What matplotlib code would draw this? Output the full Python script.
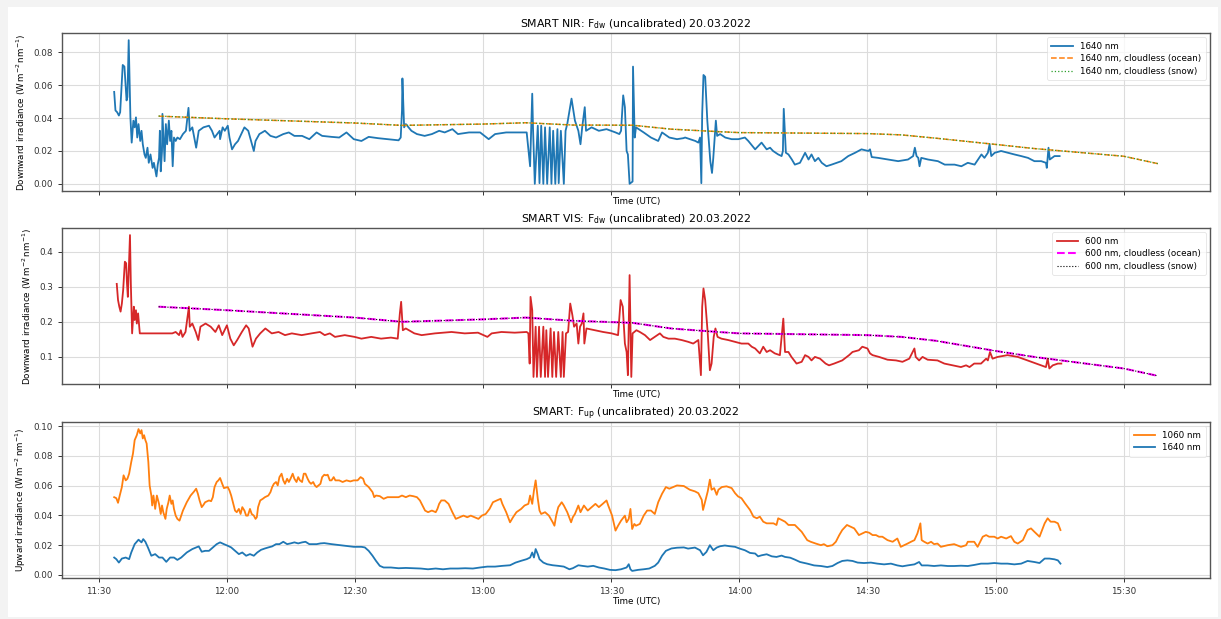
import numpy as np
import pandas as pd
import matplotlib
matplotlib.use("Agg")
import matplotlib.pyplot as plt
import matplotlib.dates as mdates
from matplotlib.patches import Rectangle

# ---------------- data (time in minutes after 00:00 UTC, 20.03.2022) ----------------
nir_t = [693.6, 693.9, 694.3, 694.7, 695.0, 695.6, 696.0, 696.5, 696.7, 697.0, 697.4, 697.7, 698.1, 698.4,
         698.7, 699.0, 699.3, 699.7, 700.0, 700.3, 700.7, 701.0, 701.4, 701.7, 702.1, 702.6, 702.9, 703.5,
         703.8, 704.1, 704.3, 704.5, 704.8, 704.9, 705.2, 705.4, 705.7, 706.0, 706.4, 706.7, 707.0, 707.3,
         707.6, 708.0, 708.4, 709.0, 709.7, 710.4, 711.0, 711.3, 711.9, 712.8, 713.4, 714.5, 715.8, 716.5,
         717.1, 718.3, 718.4, 719.0, 719.5, 720.2, 720.6, 721.2, 721.9, 722.6, 724.1, 725.0, 726.3, 726.7,
         727.6, 728.9, 730.2, 731.5, 733.2, 734.5, 735.8, 737.6, 739.3, 741.0, 742.3, 744.5, 746.3, 748.0,
         749.7, 751.5, 753.2, 755.4, 757.6, 760.2, 760.7, 761.0, 761.1, 761.5, 761.9, 763.2, 764.5, 766.3,
         768.0, 769.7, 771.0, 772.8, 774.1, 776.7, 779.3, 781.3, 782.8, 785.4, 788.0, 790.2, 791.0, 791.5,
         791.7, 792.1, 792.8, 793.2, 793.6, 794.1, 794.5, 795.0, 795.6, 796.0, 796.4, 796.9, 797.4, 797.7,
         798.2, 798.9, 799.3, 799.7, 800.7, 801.5, 802.3, 802.8, 803.2, 803.8, 804.1, 805.4, 807.1, 808.9,
         811.0, 811.9, 812.3, 812.8, 813.2, 813.6, 813.9, 814.3, 815.0, 815.1, 815.5, 815.8, 817.6, 819.3,
         821.0, 821.9, 823.6, 825.4, 826.9, 827.3, 829.7, 830.4, 830.8, 831.1, 831.3, 831.6, 832.0, 832.5,
         833.2, 833.6, 833.9, 834.5, 834.8, 835.5, 836.7, 838.2, 839.8, 841.3, 842.1, 843.7, 845.2, 846.4,
         847.2, 847.9, 849.1, 849.9, 850.2, 850.4, 850.9, 851.5, 852.3, 853.0, 854.2, 855.4, 856.2, 856.9,
         857.7, 858.5, 859.3, 860.4, 861.6, 863.9, 865.5, 867.1, 868.6, 870.2, 870.6, 871.0, 872.5, 874.8,
         877.2, 879.5, 880.7, 881.1, 881.5, 881.9, 882.2, 882.6, 884.2, 886.5, 888.1, 890.4, 892.0, 893.5,
         895.1, 895.9, 896.7, 897.4, 898.2, 898.6, 899.0, 899.8, 901.3, 902.9, 904.4, 906.0, 907.6, 909.1,
         910.7, 911.8, 912.0, 912.4, 912.7, 913.8, 915.0]
nir_v = [0.0560, 0.0447, 0.0436, 0.0416, 0.0436, 0.0724, 0.0714, 0.0508, 0.0529, 0.0875, 0.0405, 0.0251, 0.0385, 0.0344,
         0.0405, 0.0282, 0.0364, 0.0261, 0.0323, 0.0241, 0.0179, 0.0158, 0.0220, 0.0128, 0.0179, 0.0097, 0.0128, 0.0045,
         0.0117, 0.0158, 0.0323, 0.0076, 0.0200, 0.0426, 0.0261, 0.0138, 0.0364, 0.0241, 0.0385, 0.0261, 0.0323, 0.0107,
         0.0282, 0.0261, 0.0282, 0.0272, 0.0303, 0.0323, 0.0463, 0.0323, 0.0344, 0.0220, 0.0323, 0.0344, 0.0354, 0.0323,
         0.0282, 0.0323, 0.0272, 0.0344, 0.0323, 0.0354, 0.0282, 0.0210, 0.0241, 0.0261, 0.0344, 0.0323, 0.0200, 0.0261,
         0.0303, 0.0323, 0.0292, 0.0282, 0.0303, 0.0313, 0.0292, 0.0292, 0.0272, 0.0313, 0.0292, 0.0286, 0.0282, 0.0313,
         0.0272, 0.0261, 0.0286, 0.0278, 0.0272, 0.0265, 0.0282, 0.0447, 0.0642, 0.0344, 0.0364, 0.0323, 0.0303, 0.0292,
         0.0303, 0.0323, 0.0313, 0.0333, 0.0303, 0.0313, 0.0313, 0.0272, 0.0303, 0.0313, 0.0313, 0.0313, 0.0107, 0.0549,
         0.0323, 0.0000, 0.0354, 0.0004, 0.0354, 0.0000, 0.0344, 0.0000, 0.0344, 0.0000, 0.0323, 0.0000, 0.0333, 0.0004,
         0.0323, 0.0000, 0.0323, 0.0364, 0.0519, 0.0385, 0.0323, 0.0241, 0.0344, 0.0467, 0.0323, 0.0344, 0.0323, 0.0333,
         0.0313, 0.0303, 0.0323, 0.0539, 0.0467, 0.0200, 0.0179, 0.0000, 0.0014, 0.0714, 0.0282, 0.0344, 0.0313, 0.0282,
         0.0261, 0.0313, 0.0282, 0.0272, 0.0278, 0.0282, 0.0261, 0.0251, 0.0282, 0.0004, 0.0426, 0.0663, 0.0652, 0.0385,
         0.0138, 0.0066, 0.0158, 0.0385, 0.0292, 0.0303, 0.0282, 0.0272, 0.0272, 0.0282, 0.0261, 0.0210, 0.0251, 0.0210,
         0.0220, 0.0200, 0.0179, 0.0169, 0.0200, 0.0457, 0.0189, 0.0179, 0.0148, 0.0117, 0.0128, 0.0189, 0.0148, 0.0179,
         0.0138, 0.0158, 0.0128, 0.0107, 0.0117, 0.0138, 0.0169, 0.0189, 0.0210, 0.0200, 0.0210, 0.0163, 0.0158, 0.0148,
         0.0138, 0.0148, 0.0169, 0.0220, 0.0169, 0.0158, 0.0107, 0.0158, 0.0148, 0.0138, 0.0117, 0.0117, 0.0107, 0.0128,
         0.0117, 0.0148, 0.0179, 0.0158, 0.0189, 0.0241, 0.0169, 0.0189, 0.0200, 0.0189, 0.0179, 0.0169, 0.0158, 0.0138,
         0.0138, 0.0128, 0.0097, 0.0220, 0.0148, 0.0169, 0.0169]

clear_t = [704, 720, 750, 761, 780, 790, 801, 815, 824, 835, 840, 870, 878, 886, 900, 909, 930, 938]
nir_ocean = [0.0412, 0.0396, 0.0370, 0.0356, 0.0364, 0.0372, 0.0358, 0.0357, 0.0333, 0.0318, 0.0312,
             0.0306, 0.0298, 0.0278, 0.0240, 0.0215, 0.0168, 0.0123]
nir_snow = [0.0413, 0.0396, 0.0371, 0.0356, 0.0364, 0.0372, 0.0358, 0.0357, 0.0333, 0.0318, 0.0312,
            0.0306, 0.0298, 0.0278, 0.0240, 0.0215, 0.0168, 0.0123]

vis_t = [694.2, 694.5, 694.8, 695.1, 695.4, 695.7, 696.1, 696.4, 696.6, 696.8, 697.3, 697.5, 697.8, 698.2,
         698.4, 698.7, 698.9, 699.2, 699.6, 707.2, 708.0, 708.8, 709.2, 709.6, 710.3, 711.1, 711.3, 711.9,
         712.7, 713.3, 713.8, 715.0, 716.2, 717.3, 718.1, 718.9, 720.0, 720.8, 721.6, 722.4, 723.5, 724.5,
         725.1, 726.0, 726.8, 727.8, 729.0, 730.5, 732.1, 733.6, 735.2, 737.5, 739.8, 741.8, 742.9, 744.1,
         745.3, 747.6, 749.9, 751.5, 753.8, 756.1, 758.4, 760.0, 760.5, 760.8, 761.2, 761.9, 763.9, 765.6,
         768.7, 772.6, 775.7, 778.8, 781.0, 782.0, 784.3, 787.4, 790.2, 790.6, 790.9, 791.1, 791.5, 791.8,
         792.3, 792.6, 793.1, 793.5, 794.1, 794.5, 794.8, 795.2, 795.8, 796.2, 796.6, 797.1, 797.6, 798.2,
         798.6, 798.9, 799.4, 799.9, 800.4, 800.9, 801.3, 801.9, 802.3, 802.7, 803.1, 803.5, 803.7, 804.2,
         806.2, 808.1, 810.1, 811.6, 812.2, 812.7, 813.2, 813.6, 813.9, 814.3, 814.7, 815.0, 815.9, 816.7,
         817.9, 819.1, 820.2, 821.4, 822.2, 823.4, 824.9, 826.5, 828.0, 829.2, 830.4, 831.0, 831.3, 831.6,
         832.0, 832.6, 833.1, 833.5, 834.0, 834.4, 834.9, 835.8, 837.4, 839.0, 840.5, 842.1, 842.9, 843.7,
         844.8, 845.6, 846.4, 847.2, 848.3, 849.5, 850.3, 850.7, 851.5, 852.2, 853.4, 854.6, 855.4, 856.2,
         856.9, 857.7, 858.9, 860.2, 861.0, 862.2, 864.1, 865.7, 866.5, 868.0, 868.8, 870.0, 870.6, 871.2,
         872.7, 874.7, 876.7, 878.2, 879.8, 881.0, 881.3, 882.1, 882.9, 884.1, 886.4, 888.0, 890.0, 891.9,
         893.1, 893.9, 895.0, 896.6, 897.8, 898.2, 898.7, 899.3, 900.5, 902.8, 905.2, 907.5, 909.5, 910.7,
         911.8, 912.2, 912.6, 913.4, 914.6, 915.4]
vis_v = [0.308, 0.262, 0.243, 0.229, 0.252, 0.290, 0.371, 0.367, 0.309, 0.271, 0.447, 0.309, 0.167, 0.243,
         0.205, 0.233, 0.195, 0.224, 0.167, 0.167, 0.171, 0.162, 0.176, 0.157, 0.171, 0.243, 0.186, 0.195,
         0.171, 0.148, 0.186, 0.195, 0.186, 0.171, 0.190, 0.162, 0.190, 0.152, 0.133, 0.148, 0.171, 0.190,
         0.181, 0.129, 0.152, 0.167, 0.181, 0.167, 0.171, 0.162, 0.167, 0.162, 0.167, 0.171, 0.162, 0.167,
         0.157, 0.162, 0.157, 0.152, 0.157, 0.152, 0.155, 0.152, 0.224, 0.257, 0.176, 0.181, 0.167, 0.162,
         0.167, 0.171, 0.167, 0.169, 0.157, 0.167, 0.171, 0.169, 0.171, 0.167, 0.081, 0.271, 0.233, 0.043,
         0.186, 0.043, 0.186, 0.043, 0.186, 0.043, 0.176, 0.043, 0.181, 0.043, 0.171, 0.043, 0.171, 0.043,
         0.171, 0.043, 0.167, 0.171, 0.252, 0.219, 0.186, 0.195, 0.138, 0.186, 0.195, 0.224, 0.138, 0.181,
         0.176, 0.171, 0.167, 0.162, 0.262, 0.243, 0.138, 0.114, 0.048, 0.333, 0.043, 0.167, 0.176, 0.171,
         0.162, 0.148, 0.157, 0.167, 0.157, 0.152, 0.152, 0.148, 0.143, 0.138, 0.148, 0.048, 0.243, 0.295,
         0.262, 0.167, 0.062, 0.081, 0.157, 0.181, 0.157, 0.152, 0.148, 0.143, 0.138, 0.138, 0.129, 0.124,
         0.110, 0.129, 0.114, 0.119, 0.110, 0.105, 0.209, 0.114, 0.114, 0.100, 0.081, 0.086, 0.105, 0.100,
         0.090, 0.100, 0.095, 0.081, 0.076, 0.081, 0.090, 0.105, 0.114, 0.119, 0.129, 0.124, 0.110, 0.105,
         0.100, 0.092, 0.090, 0.086, 0.095, 0.124, 0.100, 0.090, 0.100, 0.092, 0.090, 0.081, 0.076, 0.071,
         0.076, 0.071, 0.081, 0.081, 0.095, 0.090, 0.114, 0.095, 0.100, 0.105, 0.100, 0.090, 0.081, 0.076,
         0.071, 0.095, 0.067, 0.076, 0.081, 0.081]

vis_ocean = [0.243, 0.233, 0.212, 0.200, 0.207, 0.212, 0.203, 0.197, 0.181, 0.171, 0.167,
             0.162, 0.157, 0.146, 0.117, 0.100, 0.067, 0.046]
vis_snow = [0.243, 0.233, 0.212, 0.200, 0.207, 0.212, 0.203, 0.197, 0.181, 0.171, 0.167,
            0.162, 0.157, 0.146, 0.117, 0.100, 0.067, 0.046]

up_t = [693.6, 694.1, 694.5, 694.9, 695.4, 695.8, 696.3, 696.7, 697.1, 697.6, 698.0, 698.4, 698.9, 699.3,
        699.7, 700.0, 700.3, 700.6, 700.9, 701.2, 701.6, 701.9, 702.3, 702.5, 702.8, 703.2, 703.6, 704.1,
        704.5, 704.8, 705.1, 705.6, 705.9, 706.3, 706.6, 707.0, 707.3, 707.6, 708.0, 708.4, 708.9, 709.3,
        709.7, 710.6, 711.5, 712.3, 712.8, 713.2, 713.6, 714.1, 714.5, 714.9, 715.8, 716.3, 716.7, 717.1,
        717.6, 718.0, 718.4, 718.9, 719.3, 720.2, 720.6, 721.0, 721.5, 721.9, 722.3, 722.8, 723.2, 723.6,
        724.1, 724.5, 724.9, 725.4, 725.8, 726.3, 726.7, 727.0, 727.3, 727.8, 728.4, 728.9, 729.7, 730.2,
        730.6, 731.0, 731.5, 731.9, 732.3, 732.8, 733.2, 733.6, 734.1, 734.5, 734.9, 735.4, 735.8, 736.3,
        736.7, 737.1, 737.6, 738.0, 738.4, 738.9, 739.3, 739.7, 740.2, 740.6, 741.0, 741.9, 742.3, 742.8,
        743.2, 743.6, 744.1, 744.5, 745.0, 745.4, 746.3, 747.1, 748.0, 748.9, 749.7, 750.6, 751.3, 751.9,
        752.3, 753.2, 754.1, 754.5, 754.9, 755.8, 756.7, 757.6, 758.4, 759.3, 760.2, 761.0, 761.9, 762.8,
        763.6, 764.5, 765.2, 765.8, 766.4, 767.1, 768.0, 768.9, 769.3, 769.7, 770.2, 771.0, 771.9, 772.8,
        773.6, 774.5, 775.4, 776.3, 777.1, 778.0, 778.9, 779.7, 780.6, 781.5, 782.3, 783.2, 784.1, 784.5,
        785.4, 786.3, 787.0, 787.8, 788.9, 789.7, 790.6, 791.0, 791.5, 791.9, 792.3, 792.8, 793.2, 793.6,
        794.5, 795.4, 796.3, 796.7, 797.1, 797.6, 798.4, 798.9, 799.7, 800.6, 801.0, 801.5, 802.3, 802.8,
        803.6, 804.5, 805.4, 806.3, 807.1, 808.0, 808.9, 809.3, 810.2, 811.0, 811.6, 812.3, 813.2, 813.6,
        814.1, 814.5, 814.9, 815.4, 815.8, 816.7, 817.6, 818.4, 819.3, 820.2, 821.0, 821.9, 822.8, 823.6,
        824.5, 825.4, 827.0, 828.4, 829.6, 830.4, 831.2, 831.5, 832.1, 832.6, 833.1, 833.5, 834.1, 834.7,
        835.1, 835.9, 837.0, 838.2, 839.0, 839.7, 840.5, 841.3, 842.5, 843.3, 844.1, 844.8, 845.6, 846.4,
        847.2, 848.0, 848.7, 849.1, 849.9, 850.7, 851.5, 852.3, 853.0, 853.8, 854.6, 855.1, 855.9, 856.7,
        857.9, 859.1, 859.8, 860.6, 861.8, 862.6, 863.4, 864.1, 865.2, 866.1, 866.9, 868.0, 868.8, 869.6,
        870.4, 871.2, 872.0, 872.7, 873.5, 874.7, 875.9, 877.0, 877.8, 878.6, 879.4, 880.2, 881.0, 881.7,
        882.4, 882.7, 883.3, 884.1, 884.9, 885.6, 886.4, 887.2, 888.8, 890.3, 891.9, 893.1, 893.5, 895.0,
        895.8, 897.0, 897.8, 898.5, 899.7, 900.5, 901.3, 902.5, 903.6, 904.4, 905.2, 906.4, 907.5, 908.3,
        909.1, 910.3, 911.5, 912.2, 912.9, 913.8, 914.6, 915.2]
up_1060 = [0.0523, 0.0516, 0.0485, 0.0534, 0.0591, 0.0670, 0.0636, 0.0647, 0.0681, 0.0760, 0.0816, 0.0907, 0.0940, 0.0981,
           0.0952, 0.0974, 0.0918, 0.0940, 0.0907, 0.0884, 0.0760, 0.0602, 0.0534, 0.0467, 0.0534, 0.0444, 0.0534, 0.0478,
           0.0410, 0.0467, 0.0422, 0.0377, 0.0444, 0.0489, 0.0534, 0.0478, 0.0501, 0.0444, 0.0399, 0.0377, 0.0365, 0.0399,
           0.0433, 0.0489, 0.0534, 0.0561, 0.0580, 0.0546, 0.0501, 0.0456, 0.0471, 0.0489, 0.0501, 0.0496, 0.0523, 0.0591,
           0.0625, 0.0636, 0.0652, 0.0613, 0.0584, 0.0591, 0.0568, 0.0534, 0.0478, 0.0433, 0.0422, 0.0444, 0.0410, 0.0456,
           0.0433, 0.0399, 0.0399, 0.0444, 0.0410, 0.0399, 0.0377, 0.0388, 0.0456, 0.0501, 0.0512, 0.0523, 0.0534, 0.0557,
           0.0591, 0.0613, 0.0625, 0.0602, 0.0658, 0.0681, 0.0636, 0.0613, 0.0647, 0.0625, 0.0647, 0.0681, 0.0647, 0.0625,
           0.0658, 0.0636, 0.0625, 0.0681, 0.0681, 0.0647, 0.0625, 0.0613, 0.0625, 0.0602, 0.0591, 0.0613, 0.0658, 0.0674,
           0.0670, 0.0674, 0.0636, 0.0636, 0.0658, 0.0636, 0.0636, 0.0625, 0.0636, 0.0629, 0.0636, 0.0636, 0.0658, 0.0647,
           0.0613, 0.0591, 0.0557, 0.0523, 0.0534, 0.0530, 0.0512, 0.0523, 0.0523, 0.0523, 0.0523, 0.0534, 0.0523, 0.0534,
           0.0530, 0.0523, 0.0501, 0.0467, 0.0433, 0.0422, 0.0433, 0.0422, 0.0444, 0.0478, 0.0501, 0.0501, 0.0478, 0.0422,
           0.0377, 0.0388, 0.0399, 0.0388, 0.0399, 0.0388, 0.0377, 0.0399, 0.0410, 0.0444, 0.0489, 0.0501, 0.0512, 0.0478,
           0.0422, 0.0354, 0.0388, 0.0422, 0.0444, 0.0467, 0.0478, 0.0534, 0.0478, 0.0568, 0.0636, 0.0512, 0.0433, 0.0410,
           0.0422, 0.0399, 0.0354, 0.0331, 0.0399, 0.0456, 0.0489, 0.0467, 0.0422, 0.0354, 0.0388, 0.0410, 0.0467, 0.0422,
           0.0467, 0.0433, 0.0456, 0.0478, 0.0456, 0.0478, 0.0501, 0.0467, 0.0399, 0.0298, 0.0331, 0.0365, 0.0399, 0.0354,
           0.0377, 0.0444, 0.0309, 0.0343, 0.0331, 0.0343, 0.0399, 0.0433, 0.0433, 0.0410, 0.0489, 0.0546, 0.0591, 0.0580,
           0.0591, 0.0602, 0.0598, 0.0573, 0.0562, 0.0550, 0.0505, 0.0437, 0.0505, 0.0562, 0.0641, 0.0573, 0.0584, 0.0539,
           0.0573, 0.0591, 0.0596, 0.0584, 0.0550, 0.0528, 0.0516, 0.0483, 0.0437, 0.0392, 0.0381, 0.0392, 0.0358, 0.0347,
           0.0347, 0.0347, 0.0336, 0.0381, 0.0370, 0.0358, 0.0336, 0.0336, 0.0336, 0.0313, 0.0290, 0.0268, 0.0234, 0.0223,
           0.0211, 0.0200, 0.0207, 0.0193, 0.0200, 0.0223, 0.0268, 0.0302, 0.0336, 0.0324, 0.0313, 0.0268, 0.0279, 0.0290,
           0.0284, 0.0268, 0.0268, 0.0257, 0.0257, 0.0234, 0.0223, 0.0245, 0.0189, 0.0200, 0.0211, 0.0223, 0.0234, 0.0279,
           0.0347, 0.0234, 0.0223, 0.0211, 0.0223, 0.0207, 0.0211, 0.0189, 0.0200, 0.0207, 0.0189, 0.0200, 0.0223, 0.0223,
           0.0189, 0.0257, 0.0268, 0.0257, 0.0257, 0.0245, 0.0257, 0.0245, 0.0261, 0.0223, 0.0211, 0.0234, 0.0302, 0.0313,
           0.0290, 0.0257, 0.0347, 0.0381, 0.0358, 0.0358, 0.0347, 0.0302]

up1640_t = [693.6, 694.1, 694.7, 695.4, 696.3, 697.1, 697.6, 698.4, 699.3, 700.0, 700.4, 700.9, 701.5, 702.3,
            703.2, 704.1, 704.9, 705.8, 706.7, 707.6, 708.4, 709.3, 710.6, 711.9, 712.8, 713.4, 714.1, 714.9,
            715.8, 716.7, 717.6, 718.4, 719.3, 720.2, 721.0, 721.9, 722.8, 723.6, 724.5, 725.4, 726.3, 727.1,
            728.0, 728.9, 729.7, 730.6, 731.5, 732.3, 733.2, 734.1, 734.9, 735.8, 736.7, 737.6, 738.4, 739.3,
            740.2, 741.0, 741.9, 742.8, 744.5, 746.3, 748.0, 749.7, 751.5, 752.3, 753.2, 754.1, 754.9, 755.8,
            756.7, 758.4, 760.2, 761.9, 763.6, 765.4, 767.1, 768.9, 770.6, 772.3, 774.1, 775.8, 777.6, 779.3,
            781.0, 782.8, 784.5, 786.3, 787.6, 788.9, 790.2, 791.0, 791.5, 791.9, 792.3, 792.8, 793.2, 794.1,
            795.0, 796.3, 797.6, 798.9, 800.2, 801.0, 802.3, 803.2, 804.5, 805.8, 807.1, 808.4, 809.7, 811.0,
            812.3, 813.6, 814.1, 814.5, 814.9, 816.3, 817.6, 818.9, 820.2, 821.0, 821.9, 822.8, 824.1, 825.4,
            827.0, 828.0, 829.6, 830.8, 831.5, 832.3, 833.1, 833.9, 834.7, 835.5, 836.6, 837.8, 839.0, 840.1,
            841.3, 842.5, 843.7, 844.4, 845.2, 846.4, 847.6, 848.7, 849.9, 850.7, 851.9, 853.0, 854.2, 855.9,
            857.5, 859.1, 860.6, 861.8, 863.0, 864.1, 865.3, 866.5, 867.7, 869.2, 870.8, 872.3, 873.9, 875.5,
            877.0, 878.2, 879.4, 881.0, 882.1, 882.7, 884.1, 885.6, 887.2, 888.8, 890.3, 891.9, 893.5, 895.0,
            896.6, 898.2, 899.7, 901.3, 902.8, 904.4, 906.0, 907.5, 909.1, 910.3, 911.5, 912.6, 913.8, 914.6,
            915.2]
up_1640 = [0.0117, 0.0106, 0.0083, 0.0110, 0.0117, 0.0106, 0.0151, 0.0207, 0.0237, 0.0219, 0.0241, 0.0223, 0.0185, 0.0129,
           0.0140, 0.0117, 0.0117, 0.0088, 0.0117, 0.0117, 0.0101, 0.0117, 0.0151, 0.0174, 0.0185, 0.0192, 0.0156, 0.0162,
           0.0162, 0.0185, 0.0207, 0.0219, 0.0207, 0.0196, 0.0185, 0.0162, 0.0140, 0.0151, 0.0129, 0.0140, 0.0129, 0.0151,
           0.0169, 0.0178, 0.0185, 0.0192, 0.0207, 0.0207, 0.0223, 0.0207, 0.0212, 0.0219, 0.0212, 0.0219, 0.0223, 0.0207,
           0.0207, 0.0207, 0.0212, 0.0214, 0.0207, 0.0201, 0.0196, 0.0189, 0.0189, 0.0185, 0.0162, 0.0129, 0.0095, 0.0061,
           0.0050, 0.0050, 0.0045, 0.0047, 0.0045, 0.0043, 0.0038, 0.0043, 0.0038, 0.0043, 0.0043, 0.0045, 0.0043, 0.0050,
           0.0056, 0.0056, 0.0061, 0.0065, 0.0083, 0.0095, 0.0106, 0.0117, 0.0151, 0.0117, 0.0174, 0.0140, 0.0106, 0.0083,
           0.0072, 0.0065, 0.0061, 0.0056, 0.0038, 0.0045, 0.0065, 0.0061, 0.0056, 0.0061, 0.0050, 0.0043, 0.0034, 0.0032,
           0.0038, 0.0050, 0.0072, 0.0038, 0.0027, 0.0034, 0.0038, 0.0043, 0.0061, 0.0083, 0.0129, 0.0162, 0.0178, 0.0183,
           0.0185, 0.0177, 0.0184, 0.0166, 0.0132, 0.0155, 0.0200, 0.0166, 0.0184, 0.0193, 0.0198, 0.0193, 0.0189, 0.0177,
           0.0166, 0.0148, 0.0144, 0.0125, 0.0132, 0.0139, 0.0125, 0.0121, 0.0130, 0.0121, 0.0116, 0.0103, 0.0087, 0.0076,
           0.0064, 0.0060, 0.0053, 0.0060, 0.0080, 0.0094, 0.0098, 0.0094, 0.0083, 0.0080, 0.0083, 0.0076, 0.0071, 0.0076,
           0.0064, 0.0058, 0.0064, 0.0071, 0.0087, 0.0064, 0.0064, 0.0060, 0.0064, 0.0060, 0.0060, 0.0062, 0.0060, 0.0067,
           0.0076, 0.0076, 0.0080, 0.0076, 0.0076, 0.0071, 0.0076, 0.0094, 0.0087, 0.0080, 0.0110, 0.0110, 0.0105, 0.0098,
           0.0076]

# ---------------- helpers ----------------
BASE = pd.Timestamp("2022-03-20")


def to_time(minutes):
    return BASE + pd.to_timedelta(np.asarray(minutes, dtype=float), unit="min")


C0, C1, C2, C3 = "#1f77b4", "#ff7f0e", "#2ca02c", "#d62728"
FS_TICK = 6.3
FS_LAB = 6.3
FS_TITLE = 7.8
FS_LEG = 6.3
LW = 1.3

fig = plt.figure(figsize=(12.21, 6.19), dpi=100, facecolor="#f3f3f3")
fig.patches.append(Rectangle((8 / 1221, 2 / 619), 1210 / 1221, 610 / 619, transform=fig.transFigure,
                             facecolor="white", edgecolor="none", zorder=-10))

L, W = 62 / 1221, 1148 / 1221
ax1 = fig.add_axes([L, 1 - 191 / 619, W, 158 / 619])
ax2 = fig.add_axes([L, 1 - 384 / 619, W, 156 / 619], sharex=ax1)
ax3 = fig.add_axes([L, 1 - 578 / 619, W, 156 / 619], sharex=ax1)

ax1.plot(to_time(nir_t), nir_v, color=C0, lw=LW, label="1640 nm")
ax1.plot(to_time(clear_t), nir_ocean, color=C1, lw=1.1, ls="--", label="1640 nm, cloudless (ocean)")
ax1.plot(to_time(clear_t), nir_snow, color=C2, lw=0.9, ls=":", label="1640 nm, cloudless (snow)")
ax1.set_title(r"SMART NIR: F$_{\mathrm{dw}}$ (uncalibrated) 20.03.2022", fontsize=FS_TITLE, pad=4)
ax1.set_ylabel(r"Downward irradiance (W$\,$m$^{-2}\,$nm$^{-1}$)", fontsize=FS_LAB)

ax2.plot(to_time(vis_t), vis_v, color=C3, lw=LW, label="600 nm")
ax2.plot(to_time(clear_t), vis_ocean, color="magenta", lw=1.5, ls="--", label="600 nm, cloudless (ocean)")
ax2.plot(to_time(clear_t), vis_snow, color="black", lw=0.8, ls=":", label="600 nm, cloudless (snow)")
ax2.set_title(r"SMART VIS: F$_{\mathrm{dw}}$ (uncalibrated) 20.03.2022", fontsize=FS_TITLE, pad=4)
ax2.set_ylabel(r"Downward irradiance (W$\,$m$^{-2}\,$nm$^{-1}$)", fontsize=FS_LAB)

ax3.plot(to_time(up_t), up_1060, color=C1, lw=LW, label="1060 nm")
ax3.plot(to_time(up1640_t), up_1640, color=C0, lw=LW, label="1640 nm")
ax3.set_title(r"SMART: F$_{\mathrm{up}}$ (uncalibrated) 20.03.2022", fontsize=FS_TITLE, pad=4)
ax3.set_ylabel(r"Upward irradiance (W$\,$m$^{-2}\,$nm$^{-1}$)", fontsize=FS_LAB)

ax3.xaxis.set_major_locator(mdates.MinuteLocator(byminute=[0, 30]))
ax3.xaxis.set_major_formatter(mdates.DateFormatter("%H:%M"))

for ax in (ax1, ax2, ax3):
    ax.grid(True, color="#dcdcdc", lw=0.8)
    ax.set_axisbelow(True)
    ax.tick_params(labelsize=FS_TICK, length=3, width=0.7, colors="#333333")
    ax.set_xlabel("Time (UTC)", fontsize=FS_LAB, labelpad=1)
    for s in ax.spines.values():
        s.set_color("#555555")
        s.set_linewidth(1.0)
    leg = ax.legend(loc="upper right", fontsize=FS_LEG, framealpha=0.8, edgecolor="#dddddd",
                    handlelength=2.5, borderpad=0.5, labelspacing=0.4)
    leg.get_frame().set_linewidth(0.6)

ax1.tick_params(labelbottom=False)
ax2.tick_params(labelbottom=False)

fig.savefig("out.png", dpi=100, facecolor=fig.get_facecolor())
